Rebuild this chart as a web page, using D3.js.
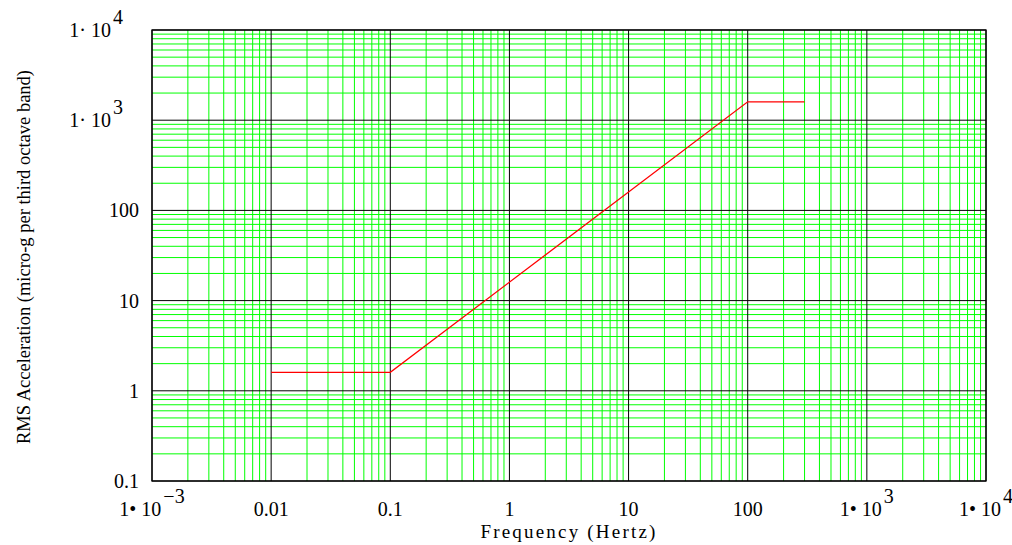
<!DOCTYPE html>
<html><head><meta charset="utf-8">
<script src="https://cdn.jsdelivr.net/npm/d3@7"></script>
<style>
body{margin:0;background:#fff;}
text{font-family:"Liberation Serif","Times New Roman",serif;fill:#000;}
</style></head>
<body><svg id="c" width="1012" height="545"></svg>
<script>
// Data
const freq = [0.01, 0.1, 100, 300];
const accel = [1.6, 1.6, 1600, 1600];
const xTicks = [1e-3, 1e-2, 1e-1, 1, 10, 100, 1e3, 1e4];
const xTickLabels = [["1• 10","−3"], ["0.01",""], ["0.1",""], ["1",""], ["10",""], ["100",""], ["1• 10","3"], ["1• 10","4"]];
const yTicks = [0.1, 1, 10, 100, 1e3, 1e4];
const yTickLabels = [["0.1",""], ["1",""], ["10",""], ["100",""], ["1· 10","3"], ["1· 10","4"]];
const xTitle = "Frequency (Hertz)";
const yTitle = "RMS Acceleration (micro-g per third octave band)";

const svg = d3.select("#c");
const L = 152, R = 986, T = 30, B = 481;
const x = d3.scaleLog().domain([1e-3, 1e4]).range([L, R]);
const y = d3.scaleLog().domain([0.1, 1e4]).range([B, T]);

const g = svg.append("g");
// minor grid
const minorX = [], minorY = [];
for (let e = -3; e < 4; e++) for (let k = 2; k <= 9; k++) minorX.push(k * Math.pow(10, e));
for (let e = -1; e < 4; e++) for (let k = 2; k <= 9; k++) minorY.push(k * Math.pow(10, e));
g.selectAll(".mx").data(minorX).enter().append("line")
  .attr("x1", d => x(d)).attr("x2", d => x(d)).attr("y1", T).attr("y2", B)
  .attr("stroke", "#00ff00").attr("stroke-width", 1);
g.selectAll(".my").data(minorY).enter().append("line")
  .attr("y1", d => y(d)).attr("y2", d => y(d)).attr("x1", L).attr("x2", R)
  .attr("stroke", "#00ff00").attr("stroke-width", 1);
// major grid
g.selectAll(".Mx").data(xTicks).enter().append("line")
  .attr("x1", d => x(d)).attr("x2", d => x(d)).attr("y1", T).attr("y2", B)
  .attr("stroke", "#000").attr("stroke-width", 1);
g.selectAll(".My").data(yTicks).enter().append("line")
  .attr("y1", d => y(d)).attr("y2", d => y(d)).attr("x1", L).attr("x2", R)
  .attr("stroke", "#000").attr("stroke-width", 1);
// frame
g.append("rect").attr("x", L).attr("y", T).attr("width", R - L).attr("height", B - T)
  .attr("fill", "none").attr("stroke", "#000").attr("stroke-width", 1.3);

// data line
const line = d3.line().x((d, i) => x(freq[i])).y((d, i) => y(accel[i]));
g.append("path").datum(accel).attr("d", line).attr("fill", "none")
  .attr("stroke", "#ff0000").attr("stroke-width", 1.3);

// x tick labels
xTicks.forEach((t, i) => {
  const [base, ex] = xTickLabels[i];
  const tx = svg.append("text").attr("x", x(t)).attr("y", 516)
    .attr("text-anchor", "middle").attr("font-size", 20);
  tx.append("tspan").text(base);
  if (ex) tx.append("tspan").attr("dx", 2).attr("dy", -13).text(ex);
});
// y tick labels
yTicks.forEach((t, i) => {
  const [base, ex] = yTickLabels[i];
  if (ex) {
    const tx = svg.append("text").attr("x", 123).attr("y", y(t) + 7)
      .attr("text-anchor", "end").attr("font-size", 20);
    tx.append("tspan").text(base);
    tx.append("tspan").attr("dx", 2).attr("dy", -13).text(ex);
  } else {
    svg.append("text").attr("x", 139).attr("y", y(t) + 7)
      .attr("text-anchor", "end").attr("font-size", 20).text(base);
  }
});
// axis titles
svg.append("text").attr("x", (L + R) / 2).attr("y", 538).attr("text-anchor", "middle")
  .attr("font-size", 19).attr("letter-spacing", 2.2).text(xTitle);
svg.append("text").attr("transform", "translate(30,257) rotate(-90)")
  .attr("text-anchor", "middle").attr("font-size", 18.5).text(yTitle);
</script></body></html>
